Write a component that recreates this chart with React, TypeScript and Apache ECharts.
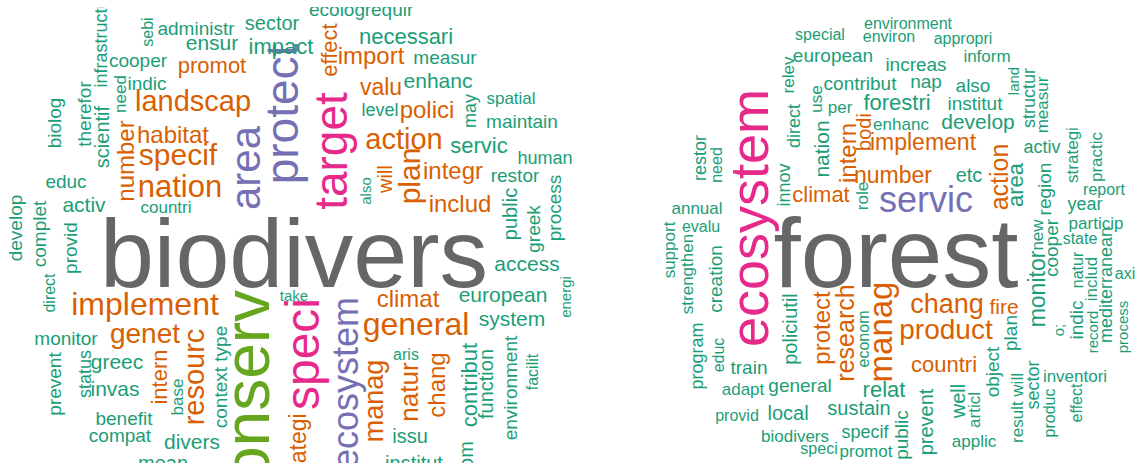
import React, { useEffect, useRef } from "react";
import * as echarts from "echarts";

// Word clouds: [word, x, y, size, rotated(1 = vertical, reading upward), colour key]
type Word = [string, number, number, number, number, string];

const palette: Record<string, string> = {
  g: "#666666",
  p: "#7570B3",
  k: "#E7298A",
  l: "#66A61E",
  o: "#D95F02",
  t: "#1B9E77",
};

const biodiversityWords: Word[] = [
  ["biodivers", 294, 253, 97, 0, "g"],
  ["conserv", 247, 402, 64, 1, "l"],
  ["speci", 302, 354, 48, 1, "k"],
  ["target", 331, 151, 46, 1, "k"],
  ["protect", 282, 114, 46, 1, "p"],
  ["area", 245, 168, 42, 1, "p"],
  ["ecosystem", 345, 383, 36, 1, "p"],
  ["general", 416, 324, 32, 0, "o"],
  ["implement", 145, 304, 32, 0, "o"],
  ["nation", 180, 186, 31, 0, "o"],
  ["specif", 178, 154, 30, 0, "o"],
  ["landscap", 193, 101, 29, 0, "o"],
  ["action", 404, 139, 29, 0, "o"],
  ["plan", 409, 176, 30, 1, "o"],
  ["resourc", 194, 377, 29, 1, "o"],
  ["genet", 145, 333, 28, 0, "o"],
  ["manag", 374, 401, 27, 1, "o"],
  ["natur", 409, 392, 26, 1, "o"],
  ["number", 125, 161, 24, 1, "o"],
  ["habitat", 173, 134, 24, 0, "o"],
  ["import", 371, 55, 24, 0, "o"],
  ["polici", 427, 109, 24, 0, "o"],
  ["integr", 453, 170, 24, 0, "o"],
  ["includ", 460, 203, 24, 0, "o"],
  ["climat", 408, 298, 24, 0, "o"],
  ["chang", 436, 385, 24, 1, "o"],
  ["valu", 381, 87, 23, 0, "o"],
  ["promot", 212, 65, 22, 0, "o"],
  ["effect", 329, 50, 22, 1, "o"],
  ["intern", 159, 377, 22, 1, "o"],
  ["strategi", 298, 451, 23, 1, "o"],
  ["will", 385, 179, 20, 1, "o"],
  ["administr", 196, 28, 19, 0, "t"],
  ["sebi", 147, 32, 16, 1, "t"],
  ["sector", 272, 23, 20, 0, "t"],
  ["ensur", 212, 42, 21, 0, "t"],
  ["impact", 281, 46, 22, 0, "t"],
  ["infrastructur", 101, 40, 18, 1, "t"],
  ["cooper", 138, 60, 19, 0, "t"],
  ["indic", 147, 83, 19, 0, "t"],
  ["need", 120, 94, 17, 1, "t"],
  ["therefor", 84, 114, 19, 1, "t"],
  ["biolog", 54, 123, 19, 1, "t"],
  ["scientif", 102, 137, 20, 1, "t"],
  ["ecolog", 337, 9, 19, 0, "t"],
  ["requir", 389, 9, 19, 0, "t"],
  ["necessari", 406, 36, 22, 0, "t"],
  ["measur", 445, 57, 19, 0, "t"],
  ["enhanc", 438, 80, 21, 0, "t"],
  ["level", 380, 110, 18, 0, "t"],
  ["may", 470, 111, 18, 1, "t"],
  ["spatial", 511, 98, 17, 0, "t"],
  ["maintain", 522, 121, 19, 0, "t"],
  ["servic", 479, 145, 22, 0, "t"],
  ["human", 545, 158, 18, 0, "t"],
  ["also", 365, 191, 15, 1, "t"],
  ["restor", 515, 175, 19, 0, "t"],
  ["public", 510, 214, 20, 1, "t"],
  ["greek", 533, 229, 19, 1, "t"],
  ["process", 554, 208, 19, 1, "t"],
  ["access", 527, 263, 21, 0, "t"],
  ["energi", 565, 297, 15, 1, "t"],
  ["take", 294, 295, 15, 0, "t"],
  ["european", 503, 294, 21, 0, "t"],
  ["system", 512, 318, 21, 0, "t"],
  ["aris", 406, 354, 16, 0, "t"],
  ["issu", 410, 436, 20, 0, "t"],
  ["institut", 414, 463, 20, 0, "t"],
  ["contribut", 469, 385, 22, 1, "t"],
  ["function", 486, 384, 20, 1, "t"],
  ["environment", 510, 388, 19, 1, "t"],
  ["facilit", 532, 372, 16, 1, "t"],
  ["om", 466, 455, 20, 1, "t"],
  ["direct", 49, 293, 16, 1, "t"],
  ["develop", 15, 228, 19, 1, "t"],
  ["complet", 39, 234, 19, 1, "t"],
  ["provid", 70, 248, 19, 1, "t"],
  ["educ", 66, 181, 19, 0, "t"],
  ["activ", 84, 204, 21, 0, "t"],
  ["countri", 166, 207, 17, 0, "t"],
  ["monitor", 66, 338, 19, 0, "t"],
  ["context type", 220, 377, 19, 1, "t"],
  ["base", 177, 397, 17, 1, "t"],
  ["greec", 117, 361, 21, 0, "t"],
  ["status", 85, 374, 18, 1, "t"],
  ["invas", 115, 388, 21, 0, "t"],
  ["prevent", 54, 384, 19, 1, "t"],
  ["benefit", 124, 418, 19, 0, "t"],
  ["compat", 120, 435, 19, 0, "t"],
  ["divers", 192, 441, 21, 0, "t"],
  ["mean", 163, 463, 20, 0, "t"],
];

const forestWords: Word[] = [
  ["forest", 896, 253, 98, 0, "g"],
  ["ecosystem", 749, 218, 54, 1, "k"],
  ["servic", 926, 199, 36, 0, "p"],
  ["manag", 880, 332, 33, 1, "o"],
  ["chang", 947, 304, 27, 0, "o"],
  ["product", 946, 329, 28, 0, "o"],
  ["research", 845, 333, 25, 1, "o"],
  ["action", 999, 177, 25, 1, "o"],
  ["protect", 821, 328, 24, 1, "o"],
  ["intern", 847, 153, 24, 1, "o"],
  ["number", 893, 175, 23, 0, "o"],
  ["implement", 923, 142, 23, 0, "o"],
  ["countri", 944, 364, 22, 0, "o"],
  ["climat", 821, 194, 22, 0, "o"],
  ["fire", 1004, 306, 21, 0, "o"],
  ["bodi", 864, 132, 20, 1, "o"],
  ["relat", 884, 389, 22, 0, "t"],
  ["etc", 969, 175, 20, 0, "t"],
  ["area", 1015, 185, 22, 1, "t"],
  ["region", 1044, 189, 19, 1, "t"],
  ["monitor", 1037, 289, 23, 1, "t"],
  ["new", 1037, 235, 17, 1, "t"],
  ["cooper", 1051, 248, 19, 1, "t"],
  ["role", 862, 196, 17, 1, "t"],
  ["nation", 821, 149, 21, 1, "t"],
  ["enhanc", 901, 124, 17, 0, "t"],
  ["forestri", 897, 102, 22, 0, "t"],
  ["institut", 975, 103, 19, 0, "t"],
  ["develop", 978, 121, 21, 0, "t"],
  ["activ", 1042, 147, 18, 0, "t"],
  ["strategi", 1072, 155, 17, 1, "t"],
  ["practic", 1096, 157, 17, 1, "t"],
  ["report", 1104, 189, 16, 0, "t"],
  ["year", 1085, 204, 18, 0, "t"],
  ["particip", 1096, 223, 17, 0, "t"],
  ["state", 1080, 238, 16, 0, "t"],
  ["mediterranean", 1106, 285, 18, 1, "t"],
  ["natur", 1077, 270, 16, 1, "t"],
  ["includ", 1091, 279, 17, 1, "t"],
  ["axi", 1125, 273, 16, 0, "t"],
  ["indic", 1076, 320, 19, 1, "t"],
  ["o;", 1058, 330, 15, 1, "t"],
  ["record", 1092, 332, 15, 1, "t"],
  ["process", 1122, 327, 15, 1, "t"],
  ["inventori", 1075, 376, 17, 0, "t"],
  ["sector", 1033, 385, 18, 1, "t"],
  ["result will", 1017, 408, 17, 1, "t"],
  ["produc", 1049, 413, 16, 1, "t"],
  ["effect", 1076, 403, 16, 1, "t"],
  ["object", 992, 372, 19, 1, "t"],
  ["plan", 1010, 333, 19, 1, "t"],
  ["well", 958, 401, 20, 1, "t"],
  ["articl", 974, 410, 17, 1, "t"],
  ["prevent", 926, 422, 20, 1, "t"],
  ["public", 901, 435, 19, 1, "t"],
  ["applic", 974, 441, 17, 0, "t"],
  ["polici", 790, 342, 20, 1, "t"],
  ["util", 790, 306, 20, 1, "t"],
  ["econom", 863, 339, 16, 1, "t"],
  ["train", 749, 367, 19, 0, "t"],
  ["educ", 718, 355, 16, 1, "t"],
  ["program", 697, 356, 18, 1, "t"],
  ["strengthen", 687, 274, 17, 1, "t"],
  ["creation", 715, 279, 19, 1, "t"],
  ["adapt", 743, 389, 17, 0, "t"],
  ["general", 800, 385, 19, 0, "t"],
  ["sustain", 859, 408, 20, 0, "t"],
  ["provid", 737, 415, 16, 0, "t"],
  ["local", 788, 413, 20, 0, "t"],
  ["biodivers", 795, 436, 17, 0, "t"],
  ["specif", 865, 432, 18, 0, "t"],
  ["speci", 819, 448, 16, 0, "t"],
  ["promot", 866, 451, 17, 0, "t"],
  ["restor", 700, 158, 18, 1, "t"],
  ["need", 716, 165, 16, 1, "t"],
  ["annual", 697, 208, 17, 0, "t"],
  ["evalu", 701, 226, 16, 0, "t"],
  ["support", 669, 250, 17, 1, "t"],
  ["innov", 784, 185, 18, 1, "t"],
  ["direct", 794, 126, 18, 1, "t"],
  ["use", 816, 99, 17, 1, "t"],
  ["per", 840, 107, 17, 0, "t"],
  ["contribut", 860, 83, 19, 0, "t"],
  ["relev", 788, 75, 17, 1, "t"],
  ["european", 833, 55, 19, 0, "t"],
  ["special", 820, 34, 16, 0, "t"],
  ["environment", 908, 23, 16, 0, "t"],
  ["environ", 889, 36, 16, 0, "t"],
  ["appropri", 963, 38, 16, 0, "t"],
  ["inform", 987, 56, 17, 0, "t"],
  ["increas", 916, 64, 19, 0, "t"],
  ["nap", 926, 81, 19, 0, "t"],
  ["also", 973, 85, 19, 0, "t"],
  ["land", 1013, 81, 15, 1, "t"],
  ["structur", 1029, 98, 18, 1, "t"],
  ["measur", 1042, 105, 17, 1, "t"],
];

const W = 1137;
const H = 463;
const FONT = "'Liberation Sans', Arial, Helvetica, sans-serif";

function toData(words: Word[]) {
  return words.map(([w, x, y, s, r, c]) => ({
    name: w,
    value: [x, y],
    label: {
      fontSize: s,
      rotate: r ? 90 : 0,
      color: palette[c],
    },
  }));
}

function cloudSeries(name: string, words: Word[]) {
  return {
    type: "scatter",
    name,
    symbolSize: 1,
    itemStyle: { color: "rgba(0,0,0,0)", opacity: 1 },
    silent: true,
    emphasis: { disabled: true },
    label: {
      show: true,
      position: "inside",
      formatter: "{b}",
      fontFamily: FONT,
      fontWeight: "normal",
      opacity: 1,
      align: "center",
      verticalAlign: "middle",
    },
    data: toData(words),
  };
}

export default function App() {
  const ref = useRef<HTMLDivElement>(null);
  useEffect(() => {
    document.body.style.margin = "0";
    document.body.style.overflow = "hidden";
    if (!ref.current) return;
    const chart = echarts.init(ref.current, undefined, { renderer: "svg" });
    chart.setOption({
      animation: false,
      backgroundColor: "#ffffff",
      grid: { left: 0, right: 0, top: 0, bottom: 0, containLabel: false },
      xAxis: { type: "value", min: 0, max: W, show: false },
      yAxis: { type: "value", min: 0, max: H, inverse: true, show: false },
      tooltip: { show: false },
      series: [
        cloudSeries("biodiversity", biodiversityWords),
        cloudSeries("forest", forestWords),
      ],
      graphic: [
        {
          // plotting-region clip at the top of the left cloud
          type: "rect",
          left: 0,
          top: 0,
          z: 100,
          silent: true,
          shape: { width: 600, height: 7 },
          style: { fill: "#ffffff" },
        },
      ],
    });
    return () => chart.dispose();
  }, []);
  return <div ref={ref} style={{ width: W, height: H, background: "#fff" }} />;
}
